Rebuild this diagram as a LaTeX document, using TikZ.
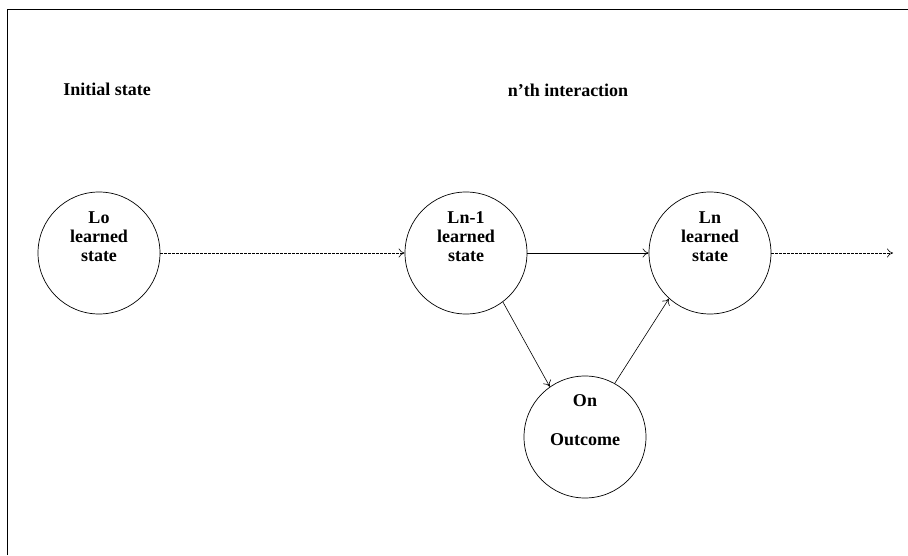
\documentclass[tikz,border=0pt]{standalone}
\usepackage{fontspec}
\setmainfont{Liberation Serif}
\usetikzlibrary{arrows.meta, positioning}

\begin{document}
\begin{tikzpicture}[
  node distance=244pt,
  state/.style={circle, draw=black, line width=0.7pt, minimum size=122pt, inner sep=0pt},
  statetext/.style={align=center, font=\bfseries\fontsize{18}{19}\selectfont},
  title/.style={anchor=base, font=\bfseries\fontsize{18}{19}\selectfont},
  arrow/.style={line width=0.6pt, -{To[length=6pt,width=9pt]}},
  dotarrow/.style={arrow, dash pattern=on 2.5pt off 1.5pt}]

  \useasboundingbox (-99pt,-302pt) rectangle (809pt,253pt);
  % Frame
  \draw [line width=0.9pt] (-92pt,-302pt) -- (-92pt,244pt) -- (809pt,244pt);

  % Nodes
  \node (lo) [state, label={[statetext, yshift=16pt]center:Lo\\learned\\state}] {};
  \node (lprev) [state, right of=lo, xshift=123pt, label={[statetext, yshift=16pt]center:Ln-1\\learned\\state}] {};
  \node (ln) [state, right of=lprev, label={[statetext, yshift=16pt]center:Ln\\learned\\state}] {};
  \node (on) [state, below of=lprev, xshift=119pt, yshift=60pt, label={[statetext, yshift=17pt]center:On\\[20pt]Outcome}] {};
  \coordinate [right of=ln, xshift=-61pt] (out);

  \node (initial) [title, above of=lo, xshift=8pt, yshift=-80pt] {Initial state};
  \node (interaction) [title, above of=lprev, xshift=102pt, yshift=-81pt] {n'th interaction};

  % Arrows
  \draw [dotarrow] (lo) -- (lprev);
  \draw [arrow] (lprev) -- (ln);
  \draw [dotarrow] (ln) -- (out);
  \draw [arrow] (lprev.-53) -- (on.125);
  \draw [arrow] (on.61) -- (ln.228);

\end{tikzpicture}
\end{document}
